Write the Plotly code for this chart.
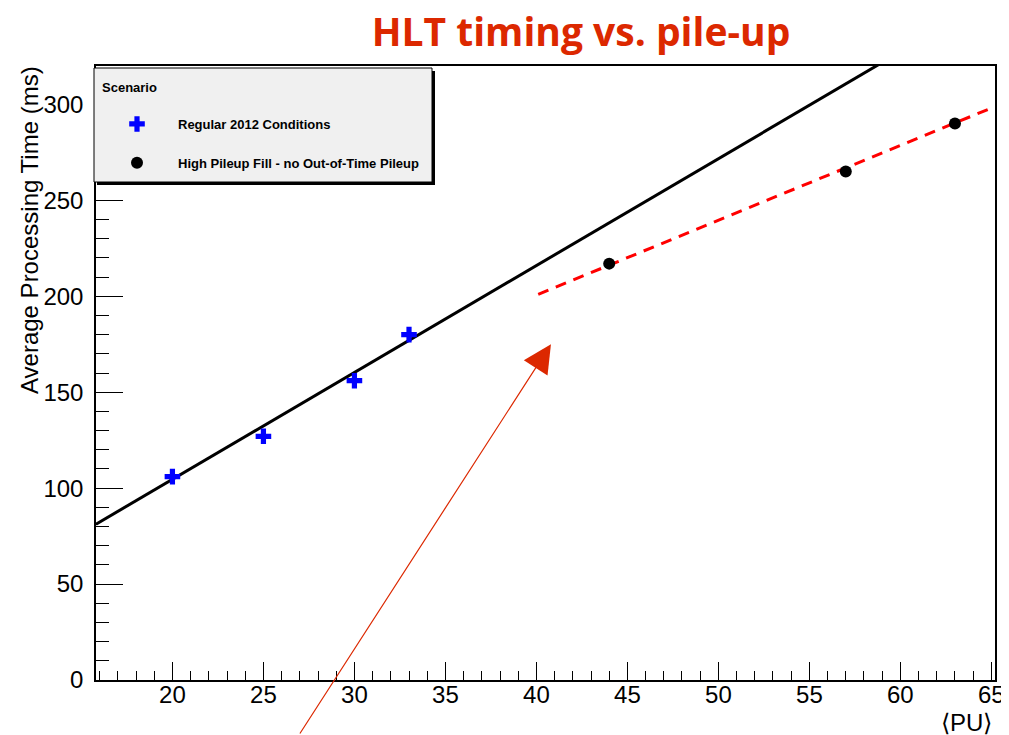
import plotly.graph_objects as go

# ---- data ----
regular_pu = [20, 25, 30, 33]
regular_ms = [106, 127, 156, 180]
highpu_pu = [44, 57, 63]
highpu_ms = [217, 265, 290]

# linear fits: [slope, intercept] and x extent
regular_fit = [5.57, -6.8]
regular_fit_x = [15.8, 65.2]
highpu_fit = [3.9, 44.6]
highpu_fit_x = [40.1, 65.2]

x_range = [15.8, 65.2]
y_range = [0, 320]
x_ticks = [20, 25, 30, 35, 40, 45, 50, 55, 60, 65]
y_ticks = [0, 50, 100, 150, 200, 250, 300]

arrow_tip = [40.8, 175]

title_text = "HLT timing vs. pile-up"
y_title = "Average Processing Time (ms)"
x_title = "⟨PU⟩"
legend_title = "Scenario"
names = ["Regular 2012 Conditions", "High Pileup Fill - no Out-of-Time Pileup"]

RED = "#dc2800"
FONT = "Liberation Sans"

# ---- figure geometry (page has an 8px body margin) ----
OFF = 8
W, H = 1009 - OFF, 735 - OFF
L, R, T, B = 96 - OFF, 14, 66 - OFF, 55
pw, ph = W - L - R, H - T - B


def px_x(p):
    """screen pixel x -> paper coordinate"""
    return (p - OFF - L) / pw


def px_y(p):
    """screen pixel y -> paper coordinate"""
    return (H - B - (p - OFF)) / ph


fig = go.Figure()

fit_y1 = [regular_fit[0] * x + regular_fit[1] for x in regular_fit_x]
fig.add_trace(go.Scatter(x=regular_fit_x, y=fit_y1, mode="lines",
                         line=dict(color="black", width=3), showlegend=False,
                         hoverinfo="skip"))
fit_y2 = [highpu_fit[0] * x + highpu_fit[1] for x in highpu_fit_x]
fig.add_trace(go.Scatter(x=highpu_fit_x, y=fit_y2, mode="lines",
                         line=dict(color="#ff0000", width=3, dash="11px,8px"),
                         showlegend=False, hoverinfo="skip"))

fig.add_trace(go.Scatter(x=regular_pu, y=regular_ms, mode="markers", name=names[0],
                         legendgroup="a",
                         marker=dict(symbol="cross", size=13, color="#0000ff",
                                     line=dict(width=0))))
fig.add_trace(go.Scatter(x=highpu_pu, y=highpu_ms, mode="markers", name=names[1],
                         legendgroup="b",
                         marker=dict(symbol="circle", size=12, color="black",
                                     line=dict(width=0))))

# legend box with shadow
box = [94, 68, 432, 182]
fig.add_shape(type="rect", xref="paper", yref="paper", layer="above",
              x0=px_x(box[0] + 3), x1=px_x(box[2] + 3), y0=px_y(box[3] + 3), y1=px_y(box[1] + 3),
              fillcolor="black", line=dict(width=0))
fig.add_shape(type="rect", xref="paper", yref="paper", layer="above",
              x0=px_x(box[0]), x1=px_x(box[2]), y0=px_y(box[3]), y1=px_y(box[1]),
              fillcolor="#f0f0f0", line=dict(color="black", width=1))

fig.add_annotation(text=legend_title, xref="paper", yref="paper",
                   x=px_x(100), y=px_y(87), xanchor="left", yanchor="middle",
                   showarrow=False, font=dict(family=FONT, size=13, color="black", weight="bold"))

fig.add_annotation(text=y_title, xref="paper", yref="paper", textangle=-90,
                   x=px_x(29), y=px_y(64), xanchor="center", yanchor="top",
                   showarrow=False, font=dict(family=FONT, size=24, color="black"))
fig.add_annotation(text=x_title, xref="paper", yref="paper",
                   x=px_x(994), y=px_y(722), xanchor="right", yanchor="middle",
                   showarrow=False, font=dict(family=FONT, size=24, color="black"))

fig.add_annotation(text="", x=arrow_tip[0], y=arrow_tip[1], xref="x", yref="y",
                   ax=-252, ay=391, showarrow=True, arrowhead=2, arrowsize=4.7,
                   arrowwidth=1.2, arrowcolor=RED)

axis_common = dict(showline=True, linecolor="black", linewidth=1.5, mirror=True,
                   ticks="inside", tickcolor="black", showgrid=False, zeroline=False,
                   tickfont=dict(family=FONT, size=24, color="black"))

fig.update_xaxes(range=x_range, tickmode="array", tickvals=x_ticks, ticklen=18,
                 minor=dict(ticks="inside", dtick=1, ticklen=9, tickcolor="black", showgrid=False),
                 ticklabelstandoff=-8, **axis_common)
fig.update_yaxes(range=y_range, tickmode="array", tickvals=y_ticks, ticklen=27,
                 minor=dict(ticks="inside", dtick=10, ticklen=13, tickcolor="black", showgrid=False),
                 ticklabelstandoff=6, **axis_common)

fig.update_layout(
    width=W, height=H,
    margin=dict(l=L, r=R, t=T, b=B, autoexpand=False),
    paper_bgcolor="white", plot_bgcolor="white",
    title=dict(text=title_text, x=(581 - OFF) / W, xanchor="center",
               y=1 - (32 - OFF) / H, yanchor="middle",
               font=dict(family="Open Sans", size=39, color=RED, weight="bold")),
    showlegend=True,
    legend=dict(x=px_x(96), y=px_y(109), xanchor="left", yanchor="top",
                bgcolor="rgba(0,0,0,0)", borderwidth=0, itemwidth=72,
                tracegroupgap=19, traceorder="grouped",
                font=dict(family=FONT, size=13, color="black", weight="bold")),
)

fig.write_html("out.html")
